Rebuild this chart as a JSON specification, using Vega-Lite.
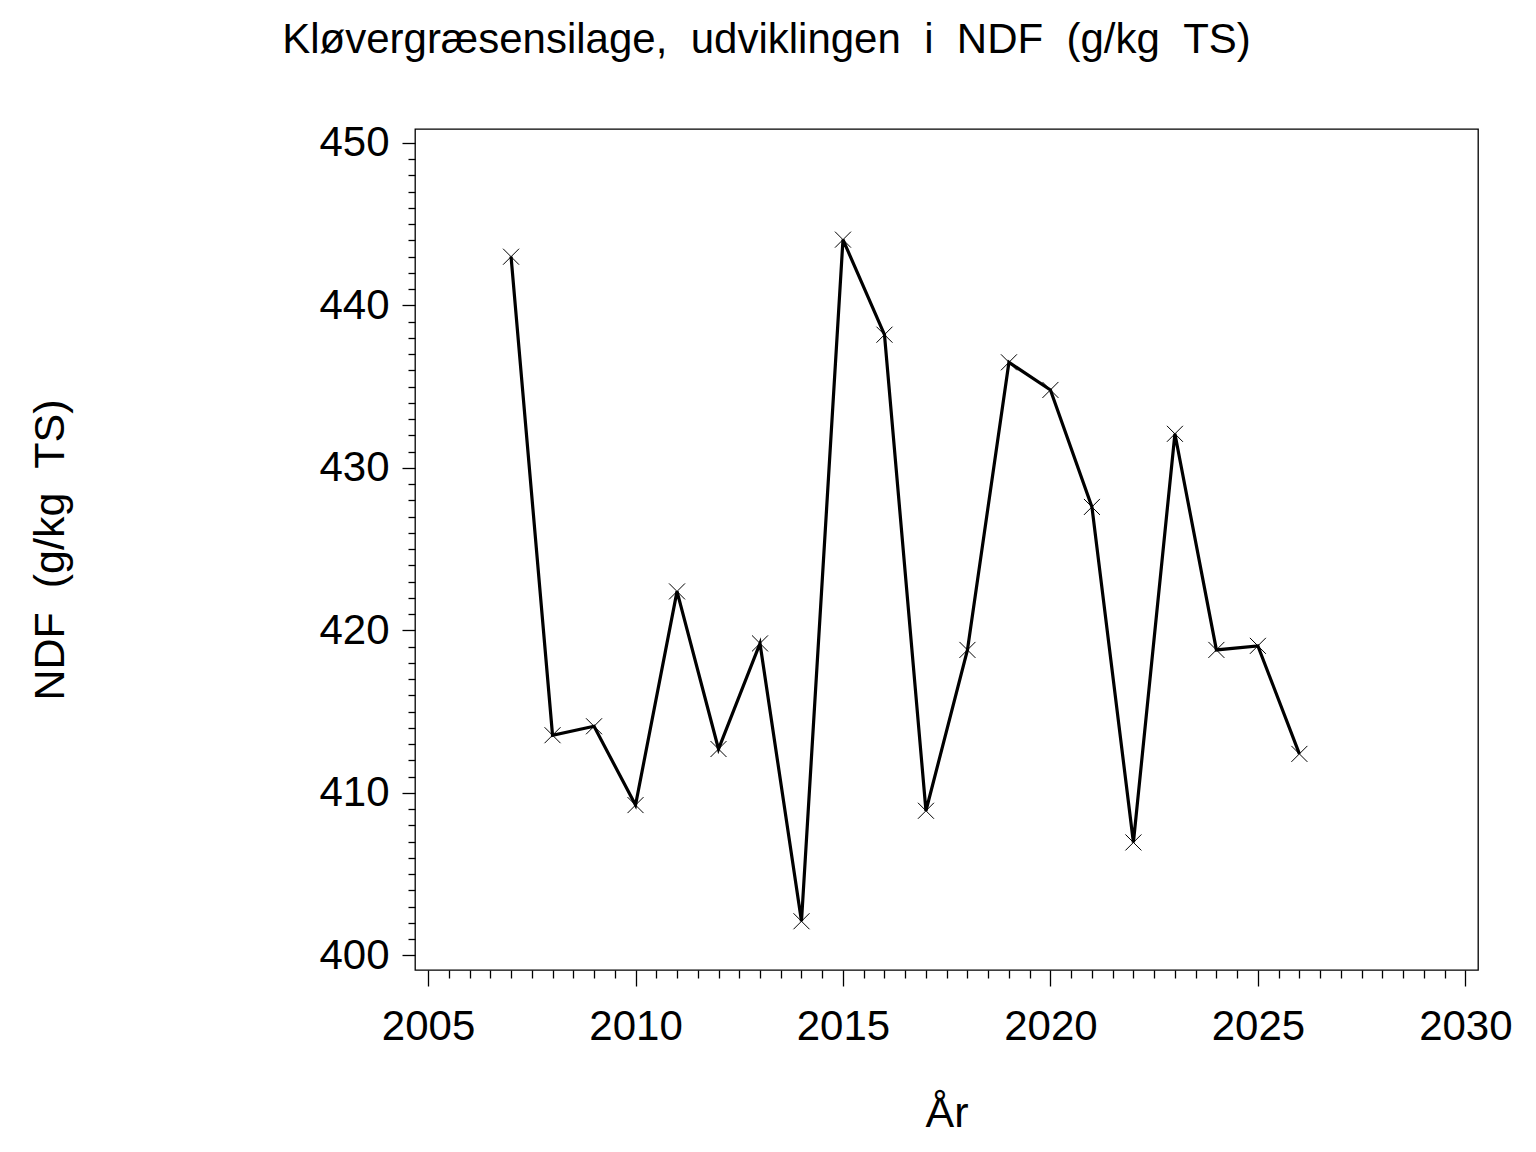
{
  "$schema": "https://vega.github.io/schema/vega-lite/v6.json",
  "autosize": "none",
  "padding": {"left": 415, "top": 129, "right": 58, "bottom": 182},
  "width": 1063,
  "height": 841,
  "background": "white",
  "title": {
    "text": "Kløvergræsensilage, \u00a0udviklingen \u00a0i \u00a0NDF \u00a0(g/kg \u00a0TS)",
    "font": "Liberation Sans",
    "fontSize": 42,
    "fontWeight": "normal",
    "color": "black",
    "anchor": "middle",
    "baseline": "alphabetic",
    "dx": -180,
    "offset": 27
  },
  "data": {
    "values": [
      {"year": 2007, "ndf": 443.0},
      {"year": 2008, "ndf": 413.55},
      {"year": 2009, "ndf": 414.1},
      {"year": 2010, "ndf": 409.25},
      {"year": 2011, "ndf": 422.4},
      {"year": 2012, "ndf": 412.7},
      {"year": 2013, "ndf": 419.2},
      {"year": 2014, "ndf": 402.1},
      {"year": 2015, "ndf": 444.05},
      {"year": 2016, "ndf": 438.2},
      {"year": 2017, "ndf": 408.9},
      {"year": 2018, "ndf": 418.8},
      {"year": 2019, "ndf": 436.5},
      {"year": 2020, "ndf": 434.8},
      {"year": 2021, "ndf": 427.6},
      {"year": 2022, "ndf": 406.95},
      {"year": 2023, "ndf": 432.1},
      {"year": 2024, "ndf": 418.8},
      {"year": 2025, "ndf": 419.05},
      {"year": 2026, "ndf": 412.4}
    ]
  },
  "encoding": {
    "x": {
      "field": "year",
      "type": "quantitative",
      "title": "År",
      "scale": {"domain": [2004.685, 2030.305], "nice": false, "zero": false},
      "axis": {
        "values": [2005, 2005.5, 2006, 2006.5, 2007, 2007.5, 2008, 2008.5, 2009, 2009.5, 2010, 2010.5, 2011, 2011.5, 2012, 2012.5, 2013, 2013.5, 2014, 2014.5, 2015, 2015.5, 2016, 2016.5, 2017, 2017.5, 2018, 2018.5, 2019, 2019.5, 2020, 2020.5, 2021, 2021.5, 2022, 2022.5, 2023, 2023.5, 2024, 2024.5, 2025, 2025.5, 2026, 2026.5, 2027, 2027.5, 2028, 2028.5, 2029, 2029.5, 2030],
        "tickCount": 200,
        "labelExpr": "datum.value % 5 === 0 ? format(datum.value, 'd') : ''",
        "tickSize": {"condition": {"test": "datum.value % 5 === 0", "value": 16}, "value": 8},
        "labelPadding": 20
      }
    },
    "y": {
      "field": "ndf",
      "type": "quantitative",
      "title": "NDF \u00a0(g/kg \u00a0TS)",
      "scale": {"domain": [399.1, 450.86], "nice": false, "zero": false},
      "axis": {
        "values": [400, 401, 402, 403, 404, 405, 406, 407, 408, 409, 410, 411, 412, 413, 414, 415, 416, 417, 418, 419, 420, 421, 422, 423, 424, 425, 426, 427, 428, 429, 430, 431, 432, 433, 434, 435, 436, 437, 438, 439, 440, 441, 442, 443, 444, 445, 446, 447, 448, 449, 450],
        "tickCount": 200,
        "labelExpr": "datum.value % 10 === 0 ? format(datum.value, 'd') : ''",
        "tickSize": {"condition": {"test": "datum.value % 10 === 0", "value": 13}, "value": 7},
        "labelPadding": 13,
        "titlePadding": 246
      }
    }
  },
  "layer": [
    {
      "mark": {"type": "line", "color": "black", "strokeWidth": 3.2, "clip": true}
    },
    {
      "mark": {
        "type": "point",
        "shape": "M-1,-1L1,1M1,-1L-1,1",
        "size": 256,
        "filled": false,
        "color": "black",
        "strokeWidth": 1,
        "opacity": 1
      }
    }
  ],
  "config": {
    "view": {"stroke": "black", "strokeWidth": 1.3},
    "axis": {
      "domain": false,
      "grid": false,
      "ticks": true,
      "tickColor": "black",
      "tickWidth": 1.3,
      "labelFont": "Liberation Sans",
      "labelFontSize": 42,
      "labelColor": "black",
      "labelFlush": false,
      "labelOverlap": false,
      "titleFont": "Liberation Sans",
      "titleFontSize": 43,
      "titleFontWeight": "normal",
      "titleColor": "black"
    },
    "axisX": {"titlePadding": 45}
  }
}
